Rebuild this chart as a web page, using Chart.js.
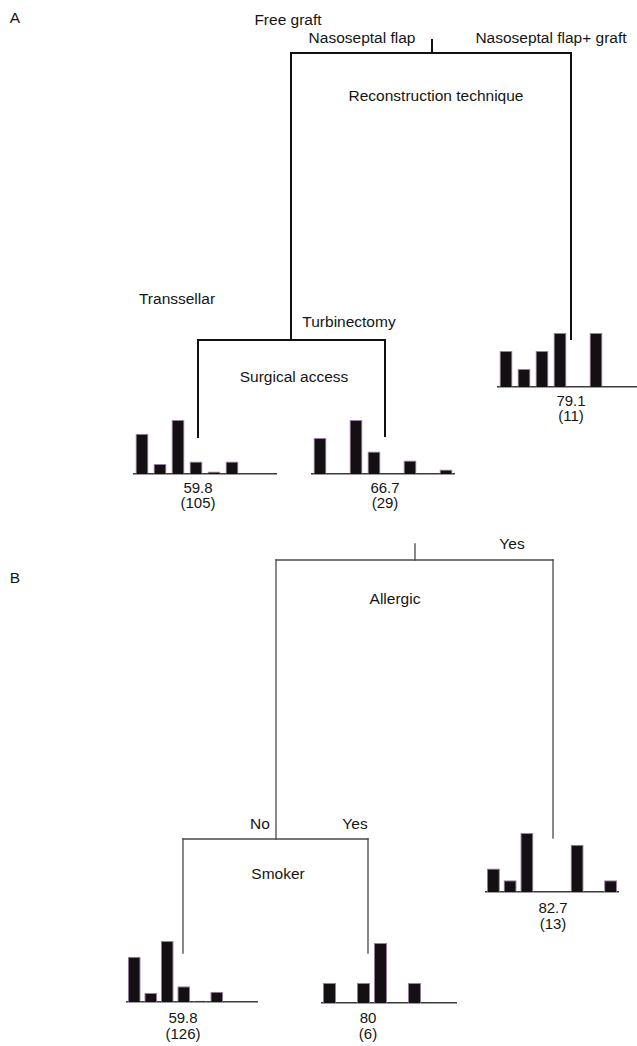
<!DOCTYPE html>
<html>
<head>
<meta charset="utf-8">
<script src="https://cdn.jsdelivr.net/npm/chart.js@4.4.1/dist/chart.umd.min.js"></script>
<style>
  html, body { margin: 0; padding: 0; background: #fff; }
  #page { position: relative; width: 637px; height: 1046px; overflow: hidden; }
  .lbl {
    position: absolute; white-space: nowrap; line-height: 1;
    font-family: "Liberation Sans", Arial, sans-serif; font-size: 15.5px; color: #151515;
    transform: translate(-50%, -50%);
  }
  .lbl.leaf { font-size: 15px; }
  .hist { position: absolute; }
  svg { position: absolute; left: 0; top: 0; }
</style>
</head>
<body>
<div id="page">
  <svg id="tree" width="637" height="1046"></svg>
</div>
<script>
// histogram bins (8 outcome classes per terminal node)
const bins = ["1", "2", "3", "4", "5", "6", "7", "8"];

// panel A: reconstruction technique / surgical access
const countsA_transsellar = [32, 8, 43, 10, 2, 10, 0, 0];
const countsA_turbinectomy = [8, 0, 12, 5, 0, 3, 0, 1];
const countsA_flapGraft = [2, 1, 2, 3, 0, 3, 0, 0];
const meansA = [59.8, 66.7, 79.1];
const sizesA = [105, 29, 11];

// panel B: allergic / smoker
const countsB_noSmokerNo = [40, 8, 54, 14, 1, 9, 0, 0];
const countsB_smokerYes = [1, 0, 1, 3, 0, 1, 0, 0];
const countsB_allergicYes = [2, 1, 5, 0, 0, 4, 0, 1];
const meansB = [59.8, 80, 82.7];
const sizesB = [126, 6, 13];

const page = document.getElementById("page");
const svg = document.getElementById("tree");

function line(x1, y1, x2, y2, w, color) {
  const l = document.createElementNS("http://www.w3.org/2000/svg", "line");
  l.setAttribute("x1", x1); l.setAttribute("y1", y1);
  l.setAttribute("x2", x2); l.setAttribute("y2", y2);
  l.setAttribute("stroke", color);
  l.setAttribute("stroke-width", w);
  l.setAttribute("stroke-linecap", "square");
  svg.appendChild(l);
}

function label(text, x, y, cls) {
  const d = document.createElement("div");
  d.className = "lbl" + (cls ? " " + cls : "");
  d.textContent = text;
  d.style.left = x + "px";
  d.style.top = y + "px";
  page.appendChild(d);
}

// split: stem from stemTop to barY at x, then branches down to children
function drawSplit(node, w, color) {
  if (node.stemTop !== undefined) line(node.x, node.stemTop, node.x, node.barY, w, color);
  const [l, r] = node.children;
  line(l.x, node.barY, r.x, node.barY, w, color);
  [l, r].forEach(c => {
    line(c.x, node.barY, c.x, c.children ? c.barY : c.top, w, color);
    if (c.children) drawSplit(c, w, color);
  });
}

function histogram(counts, box) {
  const wrap = document.createElement("div");
  wrap.className = "hist";
  const h = box.barH + 3;
  wrap.style.left = box.left + "px";
  wrap.style.top = (box.base - box.barH) + "px";
  wrap.style.width = (box.right - box.left) + "px";
  wrap.style.height = h + "px";
  const cv = document.createElement("canvas");
  cv.width = box.right - box.left;
  cv.height = h;
  wrap.appendChild(cv);
  page.appendChild(wrap);
  new Chart(cv.getContext("2d"), {
    type: "bar",
    data: {
      labels: bins,
      datasets: [{
        data: counts,
        backgroundColor: "#140f12",
        borderColor: "#9c7ea4",
        borderWidth: 1,
        barPercentage: box.barPct,
        categoryPercentage: 1
      }]
    },
    options: {
      responsive: false,
      animation: false,
      layout: { padding: { left: 0, right: 0, top: 0, bottom: 3 } },
      plugins: { legend: { display: false }, tooltip: { enabled: false } },
      scales: {
        x: {
          display: true,
          grid: { display: false, drawTicks: false },
          ticks: { display: false },
          border: { display: true, color: "#3a3a3a", width: 1.6 }
        },
        y: { display: false, min: 0, max: Math.max(...counts) }
      }
    }
  });
}

// ---- panel A ----
label("A", 15, 18);
const leafA1 = { x: 198, top: 437 };
const leafA2 = { x: 385, top: 436 };
const leafA3 = { x: 571, top: 339 };
const accessA = { x: 291, barY: 340, children: [leafA1, leafA2] };
const rootA = { x: 432, stemTop: 40, barY: 53, children: [accessA, leafA3] };
drawSplit(rootA, 2, "#111");

label("Free graft", 288, 20);
label("Nasoseptal flap", 362, 38);
label("Nasoseptal flap+ graft", 551, 38);
label("Reconstruction technique", 436, 96);
label("Transsellar", 177, 299);
label("Turbinectomy", 349, 322);
label("Surgical access", 294, 377);

histogram(countsA_transsellar, { left: 133, right: 277, base: 474, barH: 54, barPct: 0.72 });
histogram(countsA_turbinectomy, { left: 311, right: 455, base: 474, barH: 54, barPct: 0.72 });
histogram(countsA_flapGraft, { left: 497, right: 641, base: 387, barH: 54, barPct: 0.72 });

[leafA1, leafA2, leafA3].forEach((lf, i) => {
  const base = i === 2 ? 387 : 474;
  label(String(meansA[i]), lf.x, base + 13, "leaf");
  label("(" + sizesA[i] + ")", lf.x, base + 28, "leaf");
});

// ---- panel B ----
label("B", 15, 578);
const leafB1 = { x: 183, top: 953 };
const leafB2 = { x: 368, top: 953 };
const leafB3 = { x: 553, top: 838 };
const smokerB = { x: 276, barY: 839, children: [leafB1, leafB2] };
const rootB = { x: 415, stemTop: 544, barY: 560, children: [smokerB, leafB3] };
drawSplit(rootB, 1.3, "#4a4a4a");

label("Yes", 512, 544);
label("Allergic", 395, 599);
label("No", 260, 824);
label("Yes", 355, 824);
label("Smoker", 278, 874);

histogram(countsB_noSmokerNo, { left: 126, right: 258, base: 1002, barH: 61, barPct: 0.78 });
histogram(countsB_smokerYes, { left: 321, right: 457, base: 1003, barH: 60, barPct: 0.78 });
histogram(countsB_allergicYes, { left: 485, right: 619, base: 892, barH: 59, barPct: 0.78 });

[leafB1, leafB2, leafB3].forEach((lf, i) => {
  const base = i === 2 ? 892 : 1002;
  label(String(meansB[i]), lf.x, base + 15, "leaf");
  label("(" + sizesB[i] + ")", lf.x, base + 31, "leaf");
});
</script>
</body>
</html>
